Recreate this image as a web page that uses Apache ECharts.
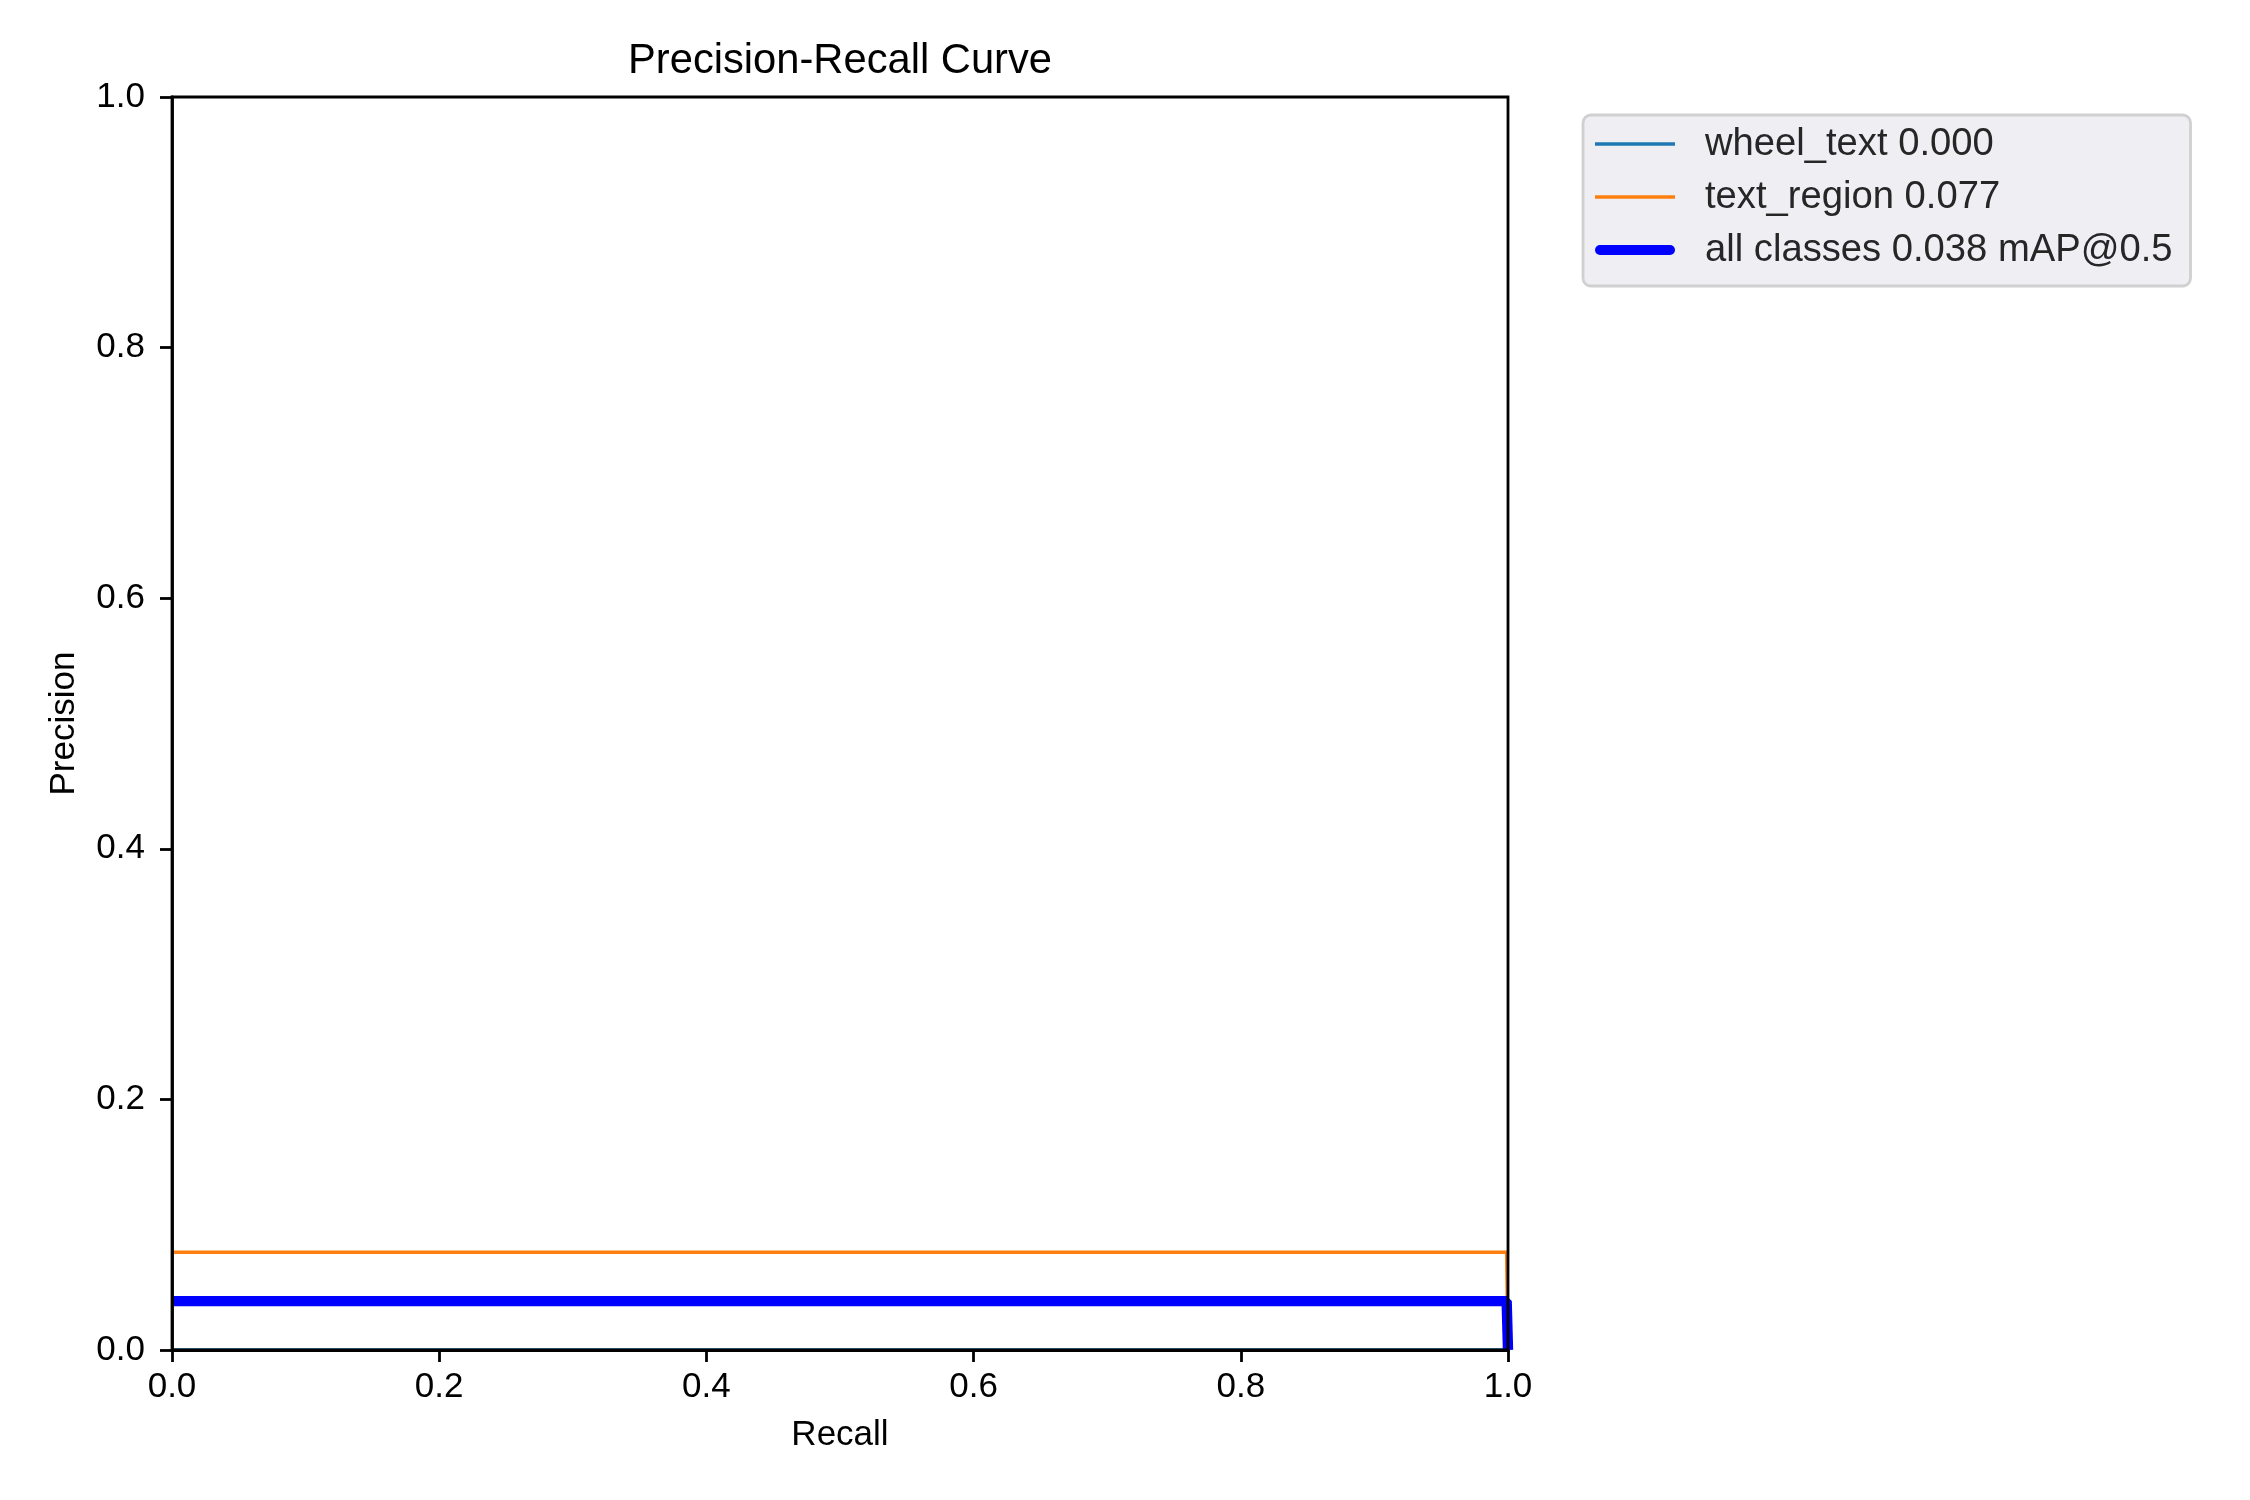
<!DOCTYPE html>
<html lang="en">
<head>
    <meta charset="UTF-8">
    <title>Precision-Recall Curve</title>
    <script src="https://cdn.jsdelivr.net/npm/echarts@6/dist/echarts.min.js"></script>
    <style>
        html, body {
            margin: 0;
            padding: 0;
            background: #fff;
        }
        #chart {
            width: 2250px;
            height: 1500px;
        }
    </style>
</head>
<body>
<div id="chart"></div>
<script>
    // values
    let recall = [0, 0.999, 1.0];
    let wheelText = [0, 0, 0];
    let textRegion = [0.078, 0.078, 0];
    let allClasses = [0.039, 0.039, 0];
    let seriesNames = ['wheel_text 0.000', 'text_region 0.077', 'all classes 0.038 mAP@0.5'];
    let seriesColors = ['#1f77b4', '#ff7f0e', '#0000ff'];
    let tickValues = [0, 0.2, 0.4, 0.6, 0.8, 1.0];

    function pairs(xs, ys) {
        return xs.map(function (x, i) {
            return [x, ys[i]];
        });
    }

    (function () {
        drawCurve();
    })();

    function drawCurve() {
        let myChart = echarts.init(document.getElementById('chart'));
        let font = '"Liberation Sans", Arial, sans-serif';
        let thinIcon = 'path://M0,0h80v3.5h-80z';
        let thickIcon = 'path://M5,0h70a5,5 0 0 1 0,10h-70a5,5 0 0 1 0,-10z';
        let axisCommon = {
            type: 'value',
            min: tickValues[0],
            max: tickValues[tickValues.length - 1],
            interval: 0.2,
            nameLocation: 'middle',
            nameTextStyle: {
                color: '#000',
                fontSize: 35,
                fontFamily: font
            },
            axisLine: {
                show: true,
                lineStyle: {color: '#000', width: 2.8}
            },
            axisTick: {
                show: true,
                length: 12,
                lineStyle: {color: '#000', width: 2.8}
            },
            axisLabel: {
                color: '#000',
                fontSize: 35,
                fontFamily: font,
                formatter: function (v) {
                    return v.toFixed(1);
                }
            },
            splitLine: {show: false},
            z: 5
        };
        let option = {
            animation: false,
            backgroundColor: '#fff',
            title: {
                text: 'Precision-Recall Curve',
                left: 835,
                top: 36,
                textAlign: 'center',
                textStyle: {
                    color: '#000',
                    fontSize: 41.7,
                    fontWeight: 'normal',
                    fontFamily: font
                }
            },
            grid: {
                left: 172,
                top: 97,
                width: 1336,
                height: 1253,
                show: true,
                borderColor: '#000',
                borderWidth: 2.8,
                backgroundColor: 'transparent',
                z: 5
            },
            legend: {
                orient: 'vertical',
                left: 1583,
                top: 115,
                padding: [10, 18, 17, 12],
                itemWidth: 80,
                itemHeight: 14,
                itemGap: 15,
                backgroundColor: '#eeeef3',
                borderColor: '#d0d0d0',
                borderWidth: 2.8,
                borderRadius: 8,
                data: [
                    {name: seriesNames[0], icon: thinIcon, itemStyle: {color: seriesColors[0]}},
                    {name: seriesNames[1], icon: thinIcon, itemStyle: {color: seriesColors[1]}},
                    {name: seriesNames[2], icon: thickIcon, itemStyle: {color: seriesColors[2]}}
                ],
                textStyle: {
                    color: '#262626',
                    fontSize: 38.2,
                    lineHeight: 38,
                    fontFamily: font,
                    padding: [0, 0, 0, 25]
                }
            },
            xAxis: Object.assign({}, axisCommon, {
                name: 'Recall',
                nameGap: 68,
                axisLabel: Object.assign({}, axisCommon.axisLabel, {margin: 20})
            }),
            yAxis: Object.assign({}, axisCommon, {
                name: 'Precision',
                nameGap: 90,
                axisLabel: Object.assign({}, axisCommon.axisLabel, {margin: 27})
            }),
            series: [
                {
                    name: seriesNames[0],
                    type: 'line',
                    showSymbol: false,
                    symbol: 'none',
                    data: pairs(recall, wheelText),
                    itemStyle: {color: seriesColors[0]},
                    lineStyle: {color: seriesColors[0], width: 3.5}
                },
                {
                    name: seriesNames[1],
                    type: 'line',
                    showSymbol: false,
                    symbol: 'none',
                    data: pairs(recall, textRegion),
                    itemStyle: {color: seriesColors[1]},
                    lineStyle: {color: seriesColors[1], width: 3.5}
                },
                {
                    name: seriesNames[2],
                    type: 'line',
                    showSymbol: false,
                    symbol: 'none',
                    data: pairs(recall, allClasses),
                    itemStyle: {color: seriesColors[2]},
                    lineStyle: {color: seriesColors[2], width: 10.4}
                }
            ]
        };
        myChart.setOption(option);
    }
</script>
</body>
</html>
